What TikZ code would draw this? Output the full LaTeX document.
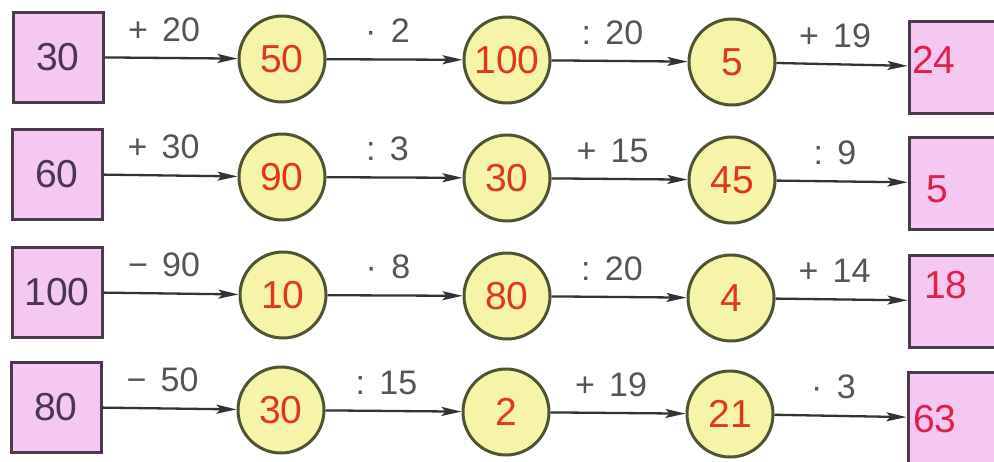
\documentclass[tikz,border=0pt]{standalone}
\usepackage{fontspec}
\setmainfont{Liberation Sans}
\usetikzlibrary{arrows.meta}
\definecolor{sqfill}{HTML}{F4C8F0}
\definecolor{sqdraw}{HTML}{4B3A4B}
\definecolor{sqtext}{HTML}{4A3552}
\definecolor{cifill}{HTML}{F6F4A8}
\definecolor{cidraw}{HTML}{4D5535}
\definecolor{citext}{HTML}{E0381E}
\definecolor{restext}{HTML}{E0204A}
\definecolor{optext}{HTML}{555555}
\definecolor{arrowc}{HTML}{333333}
\newcommand{\opl}[2]{#1\hspace{0.42em}#2}
\tikzset{
  startbox/.style={draw=sqdraw, fill=sqfill, line width=3pt, minimum width=90pt, minimum height=90pt, inner sep=0pt, text=sqtext, font=\fontsize{39}{41}\selectfont},
  endbox/.style={draw=sqdraw, fill=sqfill, line width=3pt, minimum width=100pt, minimum height=92pt, inner sep=0pt},
  endtext/.style={anchor=base west, inner sep=0pt, text=restext, font=\fontsize{39}{41}\selectfont},
  ball/.style={circle, draw=cidraw, fill=cifill, line width=3pt, minimum size=86pt, inner sep=0pt, text=citext, font=\fontsize{39}{41}\selectfont},
  flow/.style={draw=arrowc, line width=2.3pt, -{Stealth[length=20pt,width=9pt,inset=4pt]}},
  oplabel/.style={midway, anchor=base, yshift=17pt, xshift=-7pt, inner sep=0pt, text=optext, font=\fontsize{34}{36}\selectfont}
}
\begin{document}
\begin{tikzpicture}[x=1pt,y=-1pt]
\fill[white] (0,0) rectangle (994,461);
\clip (0,0) rectangle (994,461);
% Row 1
\node[startbox] (a1) at (58,57) {30};
\node[ball] (b1) at (282,59) {50};
\node[ball] (c1) at (507,60) {100};
\node[ball] (d1) at (732,62) {5};
\node[endbox] (e1) at (959,67) {};
\node[endtext] (t1) at (912,73) {24};
\draw[flow] (a1) -- (b1) node[oplabel] {\opl{+}{20}};
\draw[flow] (b1) -- (c1) node[oplabel] {\opl{·}{2}};
\draw[flow] (c1) -- (d1) node[oplabel] {\opl{:}{20}};
\draw[flow] (d1) -- (e1) node[oplabel] {\opl{+}{19}};
% Row 2
\node[startbox] (a2) at (57,174) {60};
\node[ball] (b2) at (282,177) {90};
\node[ball] (c2) at (507,178) {30};
\node[ball] (d2) at (732,180) {45};
\node[endbox] (e2) at (959,183) {};
\node[endtext] (t2) at (926,202) {5};
\draw[flow] (a2) -- (b2) node[oplabel] {\opl{+}{30}};
\draw[flow] (b2) -- (c2) node[oplabel] {\opl{:}{3}};
\draw[flow] (c2) -- (d2) node[oplabel] {\opl{+}{15}};
\draw[flow] (d2) -- (e2) node[oplabel] {\opl{:}{9}};
% Row 3
\node[startbox] (a3) at (57,292) {100};
\node[ball] (b3) at (283,295) {10};
\node[ball] (c3) at (507,296) {80};
\node[ball] (d3) at (731,298) {4};
\node[endbox] (e3) at (959,301) {};
\node[endtext] (t3) at (924,298) {18};
\draw[flow] (a3) -- (b3) node[oplabel] {\opl{−}{90}};
\draw[flow] (b3) -- (c3) node[oplabel] {\opl{·}{8}};
\draw[flow] (c3) -- (d3) node[oplabel] {\opl{:}{20}};
\draw[flow] (d3) -- (e3) node[oplabel] {\opl{+}{14}};
% Row 4
\node[startbox] (a4) at (56,407) {80};
\node[ball] (b4) at (281,410) {30};
\node[ball] (c4) at (506,412) {2};
\node[ball] (d4) at (730,414) {21};
\node[endbox] (e4) at (958,418) {};
\node[endtext] (t4) at (913,432) {63};
\draw[flow] (a4) -- (b4) node[oplabel] {\opl{−}{50}};
\draw[flow] (b4) -- (c4) node[oplabel] {\opl{:}{15}};
\draw[flow] (c4) -- (d4) node[oplabel] {\opl{+}{19}};
\draw[flow] (d4) -- (e4) node[oplabel] {\opl{·}{3}};
\end{tikzpicture}
\end{document}
